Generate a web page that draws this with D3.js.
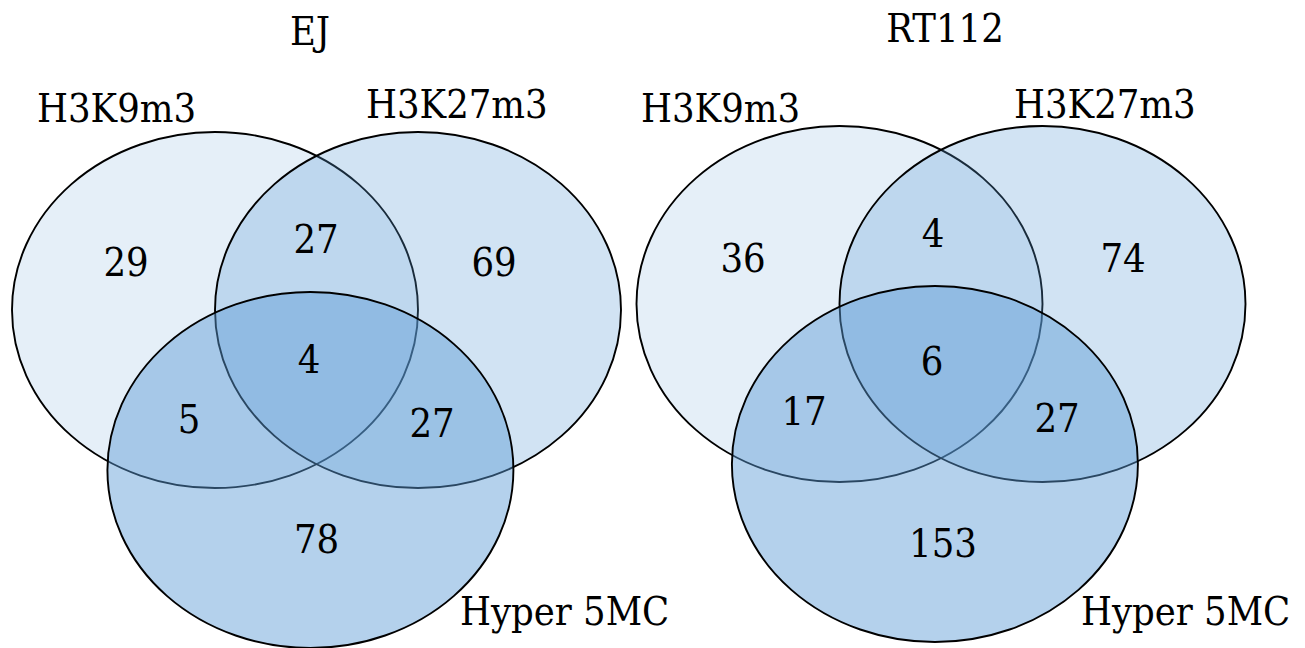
<!DOCTYPE html>
<html>
<head>
<meta charset="utf-8">
<script src="https://cdn.jsdelivr.net/npm/d3@7"></script>
<style>
  html, body { margin: 0; padding: 0; background: #ffffff; }
  svg text { font-family: "DejaVu Serif", "Liberation Serif", serif; font-stretch: condensed; fill: #000; }
</style>
</head>
<body>
<svg id="chart" width="1305" height="648"></svg>
<script>
// ---------- DATA ----------
const panels = ["EJ", "RT112"];
const setNames = ["H3K9m3", "H3K27m3", "Hyper 5MC"];
const regionKeys = ["A", "AB", "B", "ABC", "AC", "BC", "C"];
const countsEJ    = [29, 27, 69, 4, 5, 27, 78];
const countsRT112 = [36, 4, 74, 6, 17, 27, 153];
const panelCounts = [countsEJ, countsRT112];

// ---------- LAYOUT ----------
const svg = d3.select("#chart");
const fontSize = 39.5;
const baseColor = "#5b9bd5";
const setOpacity = [0.16, 0.28, 0.46];

// unit geometry: ellipse centres relative to panel centre (in ellipse-rx units)
const unitRx = 1, unitRy = 0.877;
const ellipseCentres = [[-0.5, -0.394], [0.5, -0.394], [-0.03, 0.394]];

const panelLayout = [
  { cx: 316.5, cy: 390, unit: 203,
    title: [310, 45],
    setLabels: [[37, 122], [366, 118], [460, 625]],
    regionPos: [[-190.5, -114], [-0.5, -137], [177.5, -114], [-7.5, -17], [-127.5, 43], [115.5, 47], [0, 163]] },
  { cx: 941, cy: 384, unit: 203,
    title: [945, 42],
    setLabels: [[641, 122], [1014, 118], [1081, 625]],
    regionPos: [[-198, -112], [-8, -137], [182, -112], [-9, -9], [-137, 41], [116, 48], [2, 173]] }
];

panels.forEach((name, pi) => {
  const L = panelLayout[pi];
  const x = d3.scaleLinear().domain([0, 1]).range([L.cx, L.cx + L.unit]);
  const y = d3.scaleLinear().domain([0, 1]).range([L.cy, L.cy + L.unit]);
  const g = svg.append("g").attr("class", "panel-" + name);

  setNames.forEach((s, si) => {
    const c = ellipseCentres[si];
    g.append("ellipse")
      .attr("cx", x(c[0]))
      .attr("cy", y(c[1]))
      .attr("rx", x(unitRx) - x(0))
      .attr("ry", y(unitRy) - y(0))
      .attr("fill", baseColor)
      .attr("fill-opacity", setOpacity[si])
      .attr("stroke", "#000")
      .attr("stroke-width", 1.9);
  });

  const counts = panelCounts[pi];
  regionKeys.forEach((k, ri) => {
    const p = L.regionPos[ri];
    g.append("text")
      .attr("x", L.cx + p[0])
      .attr("y", L.cy + p[1])
      .attr("text-anchor", "middle")
      .attr("font-size", fontSize)
      .text(counts[ri]);
  });

  setNames.forEach((s, si) => {
    const p = L.setLabels[si];
    g.append("text")
      .attr("x", p[0]).attr("y", p[1])
      .attr("text-anchor", "start")
      .attr("font-size", fontSize)
      .text(s);
  });

  g.append("text")
    .attr("x", L.title[0]).attr("y", L.title[1])
    .attr("text-anchor", "middle")
    .attr("font-size", fontSize)
    .text(name);
});
</script>
</body>
</html>
